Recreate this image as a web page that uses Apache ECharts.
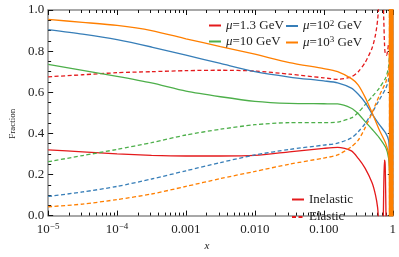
<!DOCTYPE html>
<html><head><meta charset="utf-8">
<script src="https://cdn.jsdelivr.net/npm/echarts@6/dist/echarts.min.js"></script>
<style>html,body{margin:0;padding:0;background:#fff}#c{width:399px;height:257px}</style>
</head><body><div id="c"></div>
<script>
// ---- data ----
const xMain = [0.00001, 0.00003162, 0.0001, 0.0003162, 0.001, 0.003162, 0.01, 0.03162, 0.1, 0.1585, 0.2512, 0.3162, 0.3981, 0.5012];
const red13Inel    = [0.320, 0.310, 0.300, 0.293, 0.290, 0.290, 0.293, 0.310, 0.327, 0.332, 0.315, 0.278, 0.230, 0.160];
const red13El      = [0.675, 0.685, 0.695, 0.700, 0.705, 0.707, 0.703, 0.688, 0.670, 0.663, 0.675, 0.700, 0.745, 0.815];
const green10Inel  = [0.735, 0.706, 0.677, 0.645, 0.605, 0.578, 0.556, 0.546, 0.544, 0.543, 0.522, 0.495, 0.457, 0.420];
const green10El    = [0.262, 0.292, 0.322, 0.355, 0.392, 0.420, 0.442, 0.452, 0.452, 0.455, 0.475, 0.502, 0.540, 0.578];
const blue100Inel  = [0.905, 0.883, 0.856, 0.820, 0.780, 0.740, 0.700, 0.674, 0.655, 0.646, 0.620, 0.590, 0.550, 0.495];
const blue100El    = [0.093, 0.115, 0.142, 0.178, 0.218, 0.258, 0.295, 0.322, 0.343, 0.352, 0.378, 0.408, 0.448, 0.500];
const orange1000Inel = [0.954, 0.940, 0.925, 0.900, 0.860, 0.822, 0.785, 0.744, 0.715, 0.700, 0.666, 0.635, 0.575, 0.500];
const orange1000El   = [0.043, 0.056, 0.078, 0.105, 0.142, 0.180, 0.215, 0.250, 0.280, 0.295, 0.335, 0.367, 0.428, 0.500];

// behaviour close to x = 1, as [x, fraction]
const red13InelTail = [[0.5623,0.10],[0.6026,0.04],[0.631,-0.05],[0.6607,-0.15],[0.6918,-0.15],[0.7244,-0.05],[0.7413,0.15],[0.7586,0.27],[0.7762,0.25],[0.7943,0.05],[0.8035,-0.1]];
const red13ElTail = [[0.5623,0.88],[0.6026,0.95],[0.631,1.04],[0.6607,1.15],[0.6918,1.15],[0.7244,1.06],[0.7413,0.95],[0.7586,0.84],[0.7762,0.79],[0.8128,0.78],[0.8414,0.80],[0.871,0.84]];
const green10InelTail = [[0.631,0.381],[0.7943,0.33],[0.871,0.28],[0.895,0.22]];
const green10ElTail = [[0.631,0.618],[0.7943,0.672],[0.871,0.725],[0.895,0.79]];
const blue100InelTail = [[0.631,0.445],[0.7943,0.40],[0.871,0.366],[0.895,0.30]];
const blue100ElTail = [[0.631,0.56],[0.7943,0.62],[0.871,0.66],[0.895,0.72]];
const orange1000InelTail = [[0.631,0.42],[0.7943,0.35],[0.871,0.30],[0.89,0.24],[0.895,-0.1],[0.9,1.1],[0.905,-0.1],[0.91,1.1],[0.915,-0.1],[0.92,1.1],[0.925,-0.1],[0.93,1.1],[0.935,-0.1],[0.94,1.1],[0.945,-0.1],[0.95,1.1],[0.955,-0.1],[0.96,1.1],[0.965,-0.1],[0.97,1.1],[0.975,-0.1],[0.98,1.1],[0.985,-0.1],[0.99,1.1],[0.995,-0.1],[1.0,1.1]];
const orange1000ElTail = [[0.631,0.58],[0.7943,0.65],[0.871,0.70],[0.89,0.76],[0.895,1.1],[0.9,-0.1],[0.905,1.1],[0.91,-0.1],[0.915,1.1],[0.92,-0.1],[0.925,1.1],[0.93,-0.1],[0.935,1.1],[0.94,-0.1],[0.945,1.1],[0.95,-0.1],[0.955,1.1],[0.96,-0.1],[0.965,1.1],[0.97,-0.1],[0.975,1.1],[0.98,-0.1],[0.985,1.1],[0.99,-0.1],[0.995,1.1],[1.0,-0.1]];

const xTickValues = [0.00001, 0.0001, 0.001, 0.01, 0.1, 1];
const xTickLabels = ['10{sup|−5}', '10{sup|−4}', '0.001', '0.010', '0.100', '1'];
const legendNames = ['mu1.3', 'mu10', 'mu100', 'mu1000'];
const legendLabels = ['{it|μ}=1.3 GeV', '{it|μ}=10 GeV', '{it|μ}=10{sup|2} GeV', '{it|μ}=10{sup|3} GeV'];

const xMinorTicks = [];
for (let d = -5; d < 0; d++) for (let m = 2; m <= 9; m++) xMinorTicks.push(m * Math.pow(10, d));

const RED = '#e41a1c', GREEN = '#4daf4a', BLUE = '#377eb8', ORANGE = '#ff7f00';
const FONT = 'Liberation Serif';
const rich = {
  sup: { fontFamily: FONT, fontSize: 9, verticalAlign: 'top', padding: [0, 0, 5, 0] },
  it: { fontFamily: FONT, fontStyle: 'italic', fontSize: 13 }
};

function xAx(pos, minor) {
  return {
    type: 'log', logBase: 10, min: 0.00001, max: 1, position: pos, gridIndex: 0,
    axisLine: { show: !minor, onZero: false, lineStyle: { color: '#8c8c8c', width: 1.5 } },
    axisTick: { show: true, inside: true, length: minor ? 3 : 5, customValues: minor ? xMinorTicks : xTickValues,
                lineStyle: { color: '#111', width: 1 } },
    axisLabel: { show: pos === 'bottom' && !minor, customValues: xTickValues, margin: 7,
                 fontFamily: FONT, fontSize: 13, color: '#222', rich: rich,
                 formatter: v => { const i = xTickValues.findIndex(t => Math.abs(Math.log10(t) - Math.log10(v)) < 1e-6); return i >= 0 ? xTickLabels[i] : ''; } },
    splitLine: { show: false }, minorTick: { show: false },
    name: (pos === 'bottom' && !minor) ? 'x' : '', nameLocation: 'middle', nameGap: 15,
    nameTextStyle: { fontFamily: FONT, fontStyle: 'italic', fontSize: 11, color: '#222', padding: [0, 27, 0, 0] }
  };
}
function yAx(pos) {
  return {
    type: 'value', min: 0, max: 1, interval: 0.2, position: pos,
    axisLine: { show: true, onZero: false, lineStyle: { color: '#8c8c8c', width: 1.5 } },
    axisTick: { show: true, inside: true, length: 5, lineStyle: { color: '#111', width: 1 } },
    minorTick: { show: true, splitNumber: 4, length: 3, lineStyle: { color: '#111', width: 1 } },
    axisLabel: { show: pos === 'left', margin: 4, fontFamily: FONT, fontSize: 13, color: '#222', formatter: v => v.toFixed(1) },
    splitLine: { show: false },
    name: pos === 'left' ? 'Fraction' : '', nameLocation: 'middle', nameRotate: 90, nameGap: 26,
    nameTextStyle: { fontFamily: FONT, fontSize: 9, color: '#222', padding: [0, 22, 0, 0] }
  };
}
function ser(name, xs, ys, tail, color, dashed, z) {
  return {
    name: name, type: 'line', xAxisIndex: 0, yAxisIndex: 0, symbol: 'none', smooth: 0.25, clip: true, z: z,
    data: xs.map((x, i) => [x, ys[i]]).concat(tail),
    lineStyle: { color: color, width: 1.3, type: dashed ? [4, 2.5] : 'solid' },
    itemStyle: { color: color }
  };
}

const legendCommon = {
  orient: 'vertical', itemWidth: 12, itemHeight: 8, itemGap: 3, padding: 0, itemStyle: { opacity: 0 },
  textStyle: { fontFamily: FONT, fontSize: 13, color: '#222', rich: rich }
};

const option = {
  animation: false,
  backgroundColor: '#fff',
  grid: { left: 33, right: 3, top: 10, bottom: 29, containLabel: false },
  xAxis: [xAx('bottom', false), xAx('bottom', true), xAx('top', false), xAx('top', true)],
  yAxis: [yAx('left'), yAx('right')],
  legend: [
    Object.assign({}, legendCommon, { data: [legendNames[0], legendNames[1]], left: 208, top: 19,
      formatter: n => legendLabels[legendNames.indexOf(n)] }),
    Object.assign({}, legendCommon, { data: [legendNames[2], legendNames[3]], left: 285, top: 19,
      formatter: n => legendLabels[legendNames.indexOf(n)] }),
    Object.assign({}, legendCommon, { data: ['Inelastic', 'Elastic'], left: 291, top: 193, itemGap: 4.5 })
  ],
  series: [
    ser(legendNames[0], xMain, red13Inel, red13InelTail, RED, false, 2),
    ser('mu1.3el', xMain, red13El, red13ElTail, RED, true, 2),
    ser(legendNames[1], xMain, green10Inel, green10InelTail, GREEN, false, 3),
    ser('mu10el', xMain, green10El, green10ElTail, GREEN, true, 3),
    ser(legendNames[2], xMain, blue100Inel, blue100InelTail, BLUE, false, 4),
    ser('mu100el', xMain, blue100El, blue100ElTail, BLUE, true, 4),
    ser(legendNames[3], xMain, orange1000Inel, orange1000InelTail, ORANGE, false, 5),
    ser('mu1000el', xMain, orange1000El, orange1000ElTail, ORANGE, true, 5),
    { name: 'Inelastic', type: 'line', symbol: 'none', data: [], lineStyle: { color: RED, width: 2 }, itemStyle: { color: RED } },
    { name: 'Elastic', type: 'line', symbol: 'none', data: [], lineStyle: { color: RED, width: 2, type: [4, 2.5] }, itemStyle: { color: RED } }
  ]
};
const chart = echarts.init(document.getElementById('c'), null, { renderer: 'canvas' });
chart.setOption(option);
</script></body></html>
